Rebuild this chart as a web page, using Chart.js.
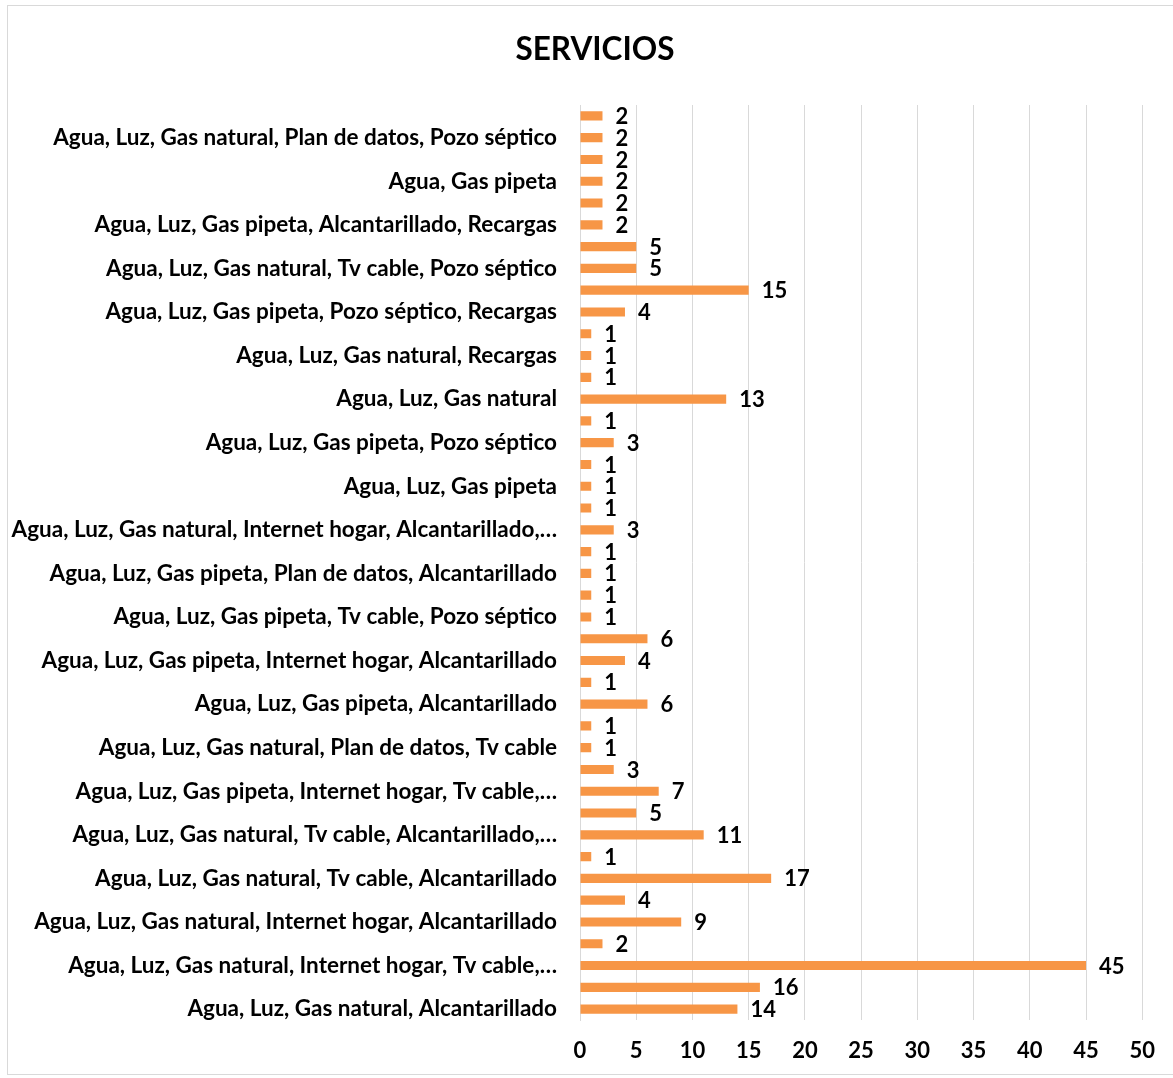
<!DOCTYPE html>
<html>
<head>
<meta charset="utf-8">
<script src="https://cdn.jsdelivr.net/npm/chart.js@4/dist/chart.umd.min.js"></script>
<style>
  html, body { margin: 0; padding: 0; background: #ffffff; }
  #wrap { position: relative; width: 1173px; height: 1078px; }
  #frame { position: absolute; left: 7px; top: 5px; width: 1170px; height: 1070px; border: 1px solid #d9d9d9; box-sizing: border-box; }
  canvas { position: absolute; left: 0; top: 0; }
</style>
</head>
<body>
<div id="wrap">
  <div id="frame"></div>
  <canvas id="c" width="1173" height="1078"></canvas>
</div>
<script>
// ---- Data (top to bottom as shown) ----
const chartTitle = 'SERVICIOS';
const categories = [
  '', 'Agua, Luz, Gas natural, Plan de datos, Pozo séptico',
  '', 'Agua, Gas pipeta',
  '', 'Agua, Luz, Gas pipeta, Alcantarillado, Recargas',
  '', 'Agua, Luz, Gas natural, Tv cable, Pozo séptico',
  '', 'Agua, Luz, Gas pipeta, Pozo séptico, Recargas',
  '', 'Agua, Luz, Gas natural, Recargas',
  '', 'Agua, Luz, Gas natural',
  '', 'Agua, Luz, Gas pipeta, Pozo séptico',
  '', 'Agua, Luz, Gas pipeta',
  '', 'Agua, Luz, Gas natural, Internet hogar, Alcantarillado,…',
  '', 'Agua, Luz, Gas pipeta, Plan de datos, Alcantarillado',
  '', 'Agua, Luz, Gas pipeta, Tv cable, Pozo séptico',
  '', 'Agua, Luz, Gas pipeta, Internet hogar, Alcantarillado',
  '', 'Agua, Luz, Gas pipeta, Alcantarillado',
  '', 'Agua, Luz, Gas natural, Plan de datos, Tv cable',
  '', 'Agua, Luz, Gas pipeta, Internet hogar, Tv cable,…',
  '', 'Agua, Luz, Gas natural, Tv cable, Alcantarillado,…',
  '', 'Agua, Luz, Gas natural, Tv cable, Alcantarillado',
  '', 'Agua, Luz, Gas natural, Internet hogar, Alcantarillado',
  '', 'Agua, Luz, Gas natural, Internet hogar, Tv cable,…',
  '', 'Agua, Luz, Gas natural, Alcantarillado'
];
const values = [
  2, 2, 2, 2, 2, 2,
  5, 5, 15, 4,
  1, 1, 1, 13,
  1, 3, 1, 1, 1, 3,
  1, 1, 1, 1,
  6, 4, 1, 6,
  1, 1, 3, 7,
  5, 11, 1, 17,
  4, 9, 2, 45,
  16, 14
];
const xTickValues = [0, 5, 10, 15, 20, 25, 30, 35, 40, 45, 50];

// ---- Styling ----
const FONT = 'Lato, "Open Sans", sans-serif';
const barColor = '#F79646';
const gridColor = '#d9d9d9';

const valueLabels = {
  id: 'valueLabels',
  afterDatasetsDraw(chart) {
    const ctx = chart.ctx;
    const meta = chart.getDatasetMeta(0);
    ctx.save();
    ctx.font = 'bold 22px ' + FONT;
    ctx.fillStyle = '#000000';
    ctx.textAlign = 'left';
    ctx.textBaseline = 'middle';
    meta.data.forEach((bar, i) => {
      ctx.fillText(String(values[i]), bar.x + 13, bar.y + 1);
    });
    ctx.restore();
  }
};

const titlePlugin = {
  id: 'customTitle',
  afterDraw(chart) {
    const ctx = chart.ctx;
    ctx.save();
    ctx.font = 'bold 31.5px ' + FONT;
    ctx.fillStyle = '#000000';
    ctx.textAlign = 'center';
    ctx.textBaseline = 'middle';
    ctx.fillText(chartTitle, 595, 50);
    ctx.restore();
  }
};

new Chart(document.getElementById('c'), {
  type: 'bar',
  data: {
    labels: categories,
    datasets: [{
      data: values,
      backgroundColor: barColor,
      borderWidth: 0,
      barPercentage: 0.42,
      categoryPercentage: 1.0
    }]
  },
  options: {
    indexAxis: 'y',
    responsive: false,
    animation: false,
    devicePixelRatio: 1,
    layout: { padding: { top: 105, right: 26, bottom: 0, left: 0 } },
    plugins: {
      legend: { display: false },
      title: { display: false },
      tooltip: { enabled: false }
    },
    scales: {
      x: {
        min: 0,
        max: 50,
        afterBuildTicks(scale) { scale.ticks = xTickValues.map(v => ({ value: v })); },
        afterFit(scale) { scale.height = 58; },
        grid: { color: gridColor, lineWidth: 1, drawTicks: false },
        border: { display: false },
        ticks: {
          padding: 18,
          color: '#000000',
          font: { family: FONT, size: 22, weight: 'bold' },
          maxRotation: 0
        }
      },
      y: {
        afterFit(scale) { scale.width = 580; },
        grid: { display: false, drawTicks: false },
        border: { display: true, color: gridColor, width: 1 },
        ticks: {
          autoSkip: false,
          padding: 23,
          color: '#000000',
          font: { family: FONT, size: 22.5, weight: 'bold' }
        }
      }
    }
  },
  plugins: [valueLabels, titlePlugin]
});
</script>
</body>
</html>
